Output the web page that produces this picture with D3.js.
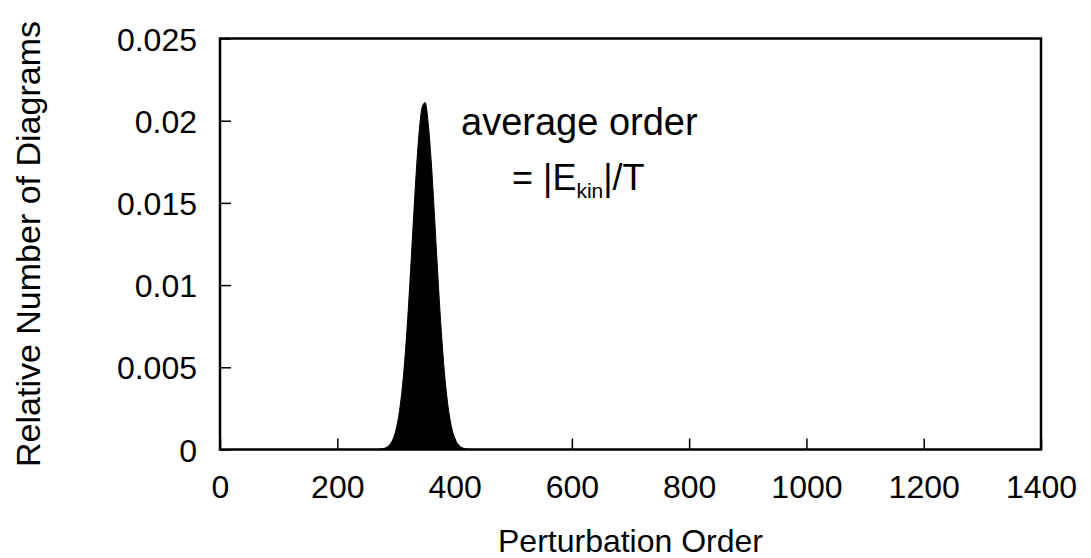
<!DOCTYPE html>
<html>
<head>
<meta charset="utf-8">
<script src="https://cdn.jsdelivr.net/npm/d3@7"></script>
<style>
  body { margin: 0; background: #fff; }
  svg text { font-family: "Liberation Sans", Arial, Helvetica, sans-serif; fill: #000; }
</style>
</head>
<body>
<svg id="chart" width="1091" height="558"></svg>
<script>
// perturbation order (x) and relative number of diagrams (y)
const orders = [260, 270, 275, 280, 285, 290, 295, 300, 305, 310, 315, 320, 325, 330, 335, 340, 345, 350,
  355, 360, 365, 370, 375, 380, 385, 390, 395, 400, 405, 410, 415, 420, 425, 440]
const fractions = [0, 0.00001, 0.00003, 0.00007, 0.00015, 0.00032, 0.00063, 0.00118, 0.00209, 0.00347,
  0.00541, 0.00792, 0.01089, 0.01407, 0.01708, 0.01948, 0.02086, 0.0211,
  0.01985, 0.01762, 0.0147, 0.01152, 0.00848, 0.00587, 0.00381, 0.00233, 0.00133, 0.00072,
  0.00036, 0.00017, 0.00008, 0.00003, 0.00001, 0]

const xTicks = [0, 200, 400, 600, 800, 1000, 1200, 1400]
const yTicks = [0, 0.005, 0.01, 0.015, 0.02, 0.025]
const yTickLabels = ['0', '0.005', '0.01', '0.015', '0.02', '0.025']

const svg = d3.select('#chart')
const plot = {left: 220, right: 1041, top: 38.5, bottom: 449.5}

const x = d3.scaleLinear().domain([0, 1400]).range([plot.left, plot.right])
const y = d3.scaleLinear().domain([0, 0.025]).range([plot.bottom, plot.top])

const points = orders.map((d, i) => ({order: d, value: fractions[i]}))

// filled distribution
const area = d3.area()
  .x((d) => x(d.order))
  .y0(y(0))
  .y1((d) => y(d.value))
  .curve(d3.curveMonotoneX)

svg.append('path')
  .datum(points)
  .attr('d', area)
  .attr('fill', '#000')
  .attr('stroke', '#000')
  .attr('stroke-width', 1)

// axes with inward ticks, labels drawn by the axis generator
const xAxis = d3.axisBottom(x)
  .tickValues(xTicks)
  .tickSizeInner(-11)
  .tickSizeOuter(0)
  .tickPadding(26)
  .tickFormat(d3.format('d'))

const gx = svg.append('g')
  .attr('transform', `translate(0, ${plot.bottom})`)
  .call(xAxis)

const yAxis = d3.axisLeft(y)
  .tickValues(yTicks)
  .tickSizeInner(-11)
  .tickSizeOuter(0)
  .tickPadding(23)
  .tickFormat((d, i) => yTickLabels[i])

const gy = svg.append('g')
  .attr('transform', `translate(${plot.left}, 0)`)
  .call(yAxis)

;[gx, gy].forEach((g) => {
  g.select('.domain').remove()
  g.selectAll('.tick line').attr('stroke', '#000').attr('stroke-width', 1.5)
  g.selectAll('.tick text')
    .style('font-size', '32px')
    .attr('fill', '#000')
})
gx.selectAll('.tick text').attr('dy', '0.71em')
gy.selectAll('.tick text').attr('dy', '0.36em')

// border
svg.append('rect')
  .attr('x', plot.left)
  .attr('y', plot.top)
  .attr('width', plot.right - plot.left)
  .attr('height', plot.bottom - plot.top)
  .attr('fill', 'none')
  .attr('stroke', '#000')
  .attr('stroke-width', 2.5)

// axis titles
svg.append('text')
  .attr('x', (plot.left + plot.right) / 2)
  .attr('y', 552)
  .attr('text-anchor', 'middle')
  .style('font-size', '32px')
  .text('Perturbation Order')

svg.append('text')
  .attr('transform', `translate(40, ${(plot.top + plot.bottom) / 2}) rotate(-90)`)
  .attr('text-anchor', 'middle')
  .style('font-size', '34px')
  .text('Relative Number of Diagrams')

// annotation
svg.append('text')
  .attr('x', 461)
  .attr('y', 135)
  .style('font-size', '38px')
  .text('average order')

const note = svg.append('text')
  .attr('x', 512)
  .attr('y', 190)
  .style('font-size', '36px')
note.append('tspan').text('= |E')
note.append('tspan').attr('dy', 8).style('font-size', '21px').text('kin')
note.append('tspan').attr('dy', -8).text('|/T')
</script>
</body>
</html>
